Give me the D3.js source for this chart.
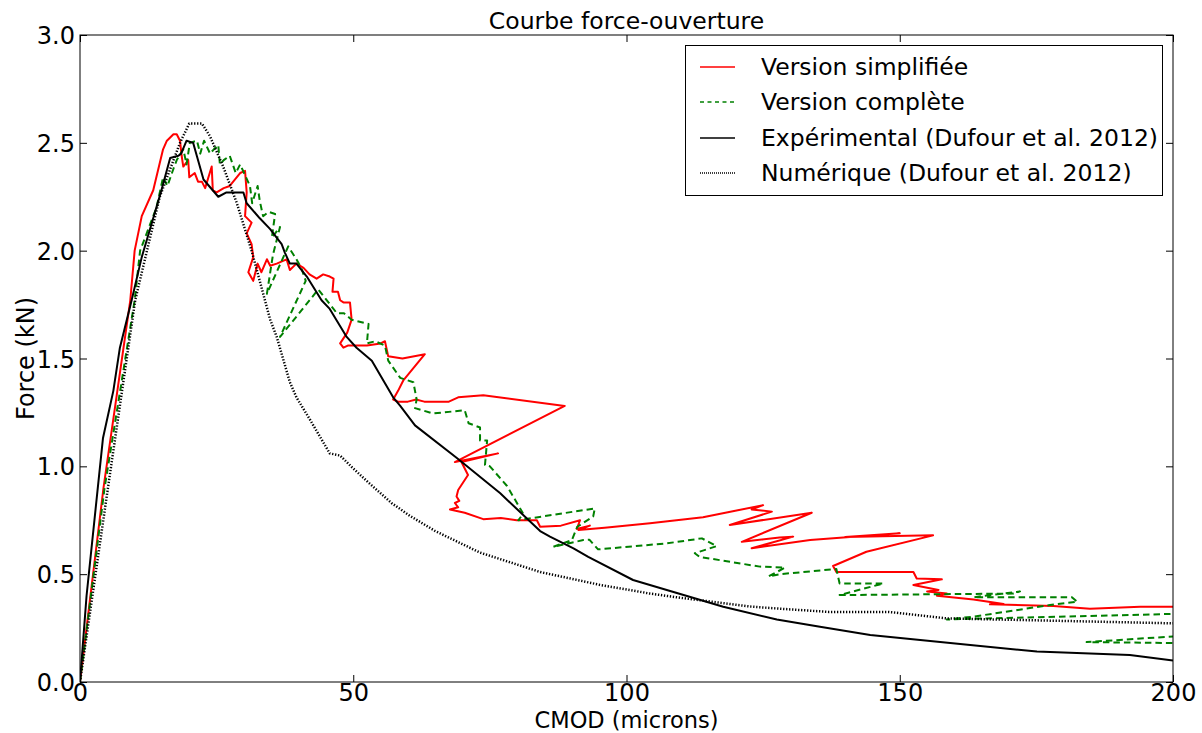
<!DOCTYPE html>
<html>
<head>
<meta charset="utf-8">
<script src="https://cdn.jsdelivr.net/npm/d3@7"></script>
<style>
  html, body { margin: 0; padding: 0; background: #fff; }
  svg { display: block; font-family: "DejaVu Sans", sans-serif; }
</style>
</head>
<body>
<svg id="chart" width="1202" height="733"></svg>
<script>
// ---- data (CMOD in microns, force in kN) ----
const simplifiee = [
  [0,0],[4.3,0.9],[9.2,1.77],[10,2.0],[11.3,2.16],[13.4,2.28],[15.2,2.47],[15.9,2.51],[17.1,2.54],[17.7,2.54],
  [18.3,2.51],[18.6,2.44],[18.9,2.39],[19.8,2.42],[20,2.34],[21,2.36],[21.6,2.32],[22.3,2.32],[22.9,2.29],[24.1,2.39],
  [24.3,2.28],[25,2.27],[26.3,2.29],[27.4,2.30],[29.3,2.36],[30.2,2.37],[30.5,2.27],[30.2,2.16],[31.4,2.13],[30.5,2.08],
  [31.4,2.03],[31.7,1.97],[30.8,1.90],[31.7,1.86],[32.5,1.94],[33.2,1.90],[34.2,1.96],[34.8,1.93],[36,1.94],[37.8,1.96],
  [38.4,1.91],[39.6,1.94],[40.9,1.92],[42,1.89],[43.3,1.87],[44.5,1.89],[45.7,1.88],[46.4,1.87],[46.2,1.81],[47.2,1.81],
  [47.6,1.77],[48.2,1.76],[49.4,1.76],[49.7,1.68],[48.9,1.62],[47.6,1.57],[48.2,1.55],[49,1.56],[50,1.56],[52.5,1.56],
  [55,1.57],[55.8,1.58],[56.4,1.51],[59,1.50],[63.1,1.52],[59.2,1.40],[58.2,1.35],[57.3,1.31],[58.2,1.30],[60,1.30],
  [61.5,1.31],[63,1.30],[65.9,1.30],[67.5,1.30],[69.2,1.32],[73.8,1.33],[88.7,1.28],[68.6,1.02],[76.5,1.06],[69.8,1.02],
  [71,0.96],[69.2,0.89],[68.9,0.86],[69.4,0.84],[68.6,0.83],[69.2,0.81],[67.7,0.80],[70.4,0.785],[73.8,0.755],[77,0.76],
  [79.9,0.75],[83.6,0.75],[84.2,0.72],[88,0.725],[91.5,0.75],[90.9,0.71],[93.3,0.725],[91.2,0.705],[96,0.715],[104.3,0.736],
  [114,0.764],[125,0.82],[122.9,0.80],[126.6,0.79],[118.9,0.728],[133.9,0.785],[121.1,0.65],[128,0.67],[130.5,0.674],[122.9,0.62],
  [133.6,0.658],[150,0.69],[140,0.672],[156.1,0.68],[143.9,0.604],[137.8,0.538],[138.4,0.51],[152.5,0.51],[153.1,0.48],[157.7,0.476],
  [152.5,0.45],[157.1,0.427],[155,0.42],[158.6,0.41],[156.8,0.40],[163.5,0.383],[169,0.362],[166.5,0.36],[178.1,0.352],[184.8,0.34],
  [194,0.349],[200,0.349]
];
const complete = [
  [0,0],[4.5,0.9],[10,1.77],[11,2.0],[14,2.2],[15.2,2.34],[16,2.3],[17.1,2.38],[17.7,2.42],[18.9,2.47],
  [19.5,2.40],[20.1,2.50],[21.4,2.51],[22,2.45],[22.7,2.51],[23.8,2.45],[24.5,2.47],[25.3,2.49],[25.6,2.40],[26.3,2.42],
  [27.4,2.44],[28.5,2.36],[29.3,2.40],[30.2,2.35],[31.1,2.30],[31.5,2.22],[32.5,2.30],[32.9,2.23],[33.5,2.16],[34.5,2.18],
  [35.7,2.17],[35.1,2.06],[36.6,2.11],[35.3,1.98],[34.2,1.80],[38.1,2.02],[39.6,1.96],[40.5,1.92],[41.3,1.86],[36.6,1.60],
  [43.6,1.82],[47,1.71],[48.3,1.71],[49.7,1.68],[52.8,1.66],[52.5,1.57],[54,1.58],[55.8,1.56],[56.4,1.49],[58.6,1.41],
  [61,1.39],[61.6,1.31],[61.3,1.27],[64.6,1.245],[70.4,1.26],[71.1,1.20],[73.2,1.18],[73.2,1.12],[74.5,1.12],[74.1,1.006],
  [75,1.0],[78.1,0.91],[79.5,0.85],[81.1,0.78],[80.2,0.75],[94.2,0.805],[93.9,0.767],[91,0.72],[90,0.658],[86.6,0.627],
  [92.1,0.658],[93.2,0.66],[94.8,0.615],[107.4,0.643],[113.8,0.666],[116.5,0.63],[112.5,0.597],[113.4,0.58],[124.4,0.535],[129,0.53],
  [126,0.49],[128.1,0.50],[138.4,0.524],[139,0.457],[147,0.457],[139,0.403],[170.8,0.41],[172,0.42],[163.5,0.393],[181.5,0.393],
  [182.5,0.372],[177.5,0.357],[163.5,0.303],[158.6,0.29],[210,0.322],[210,0.228],[184.2,0.185],[210,0.178]
];
const experimental = [
  [0,0],[1.2,0.4],[4.2,1.13],[6.1,1.35],[7.3,1.55],[9.45,1.77],[11.3,1.97],[14.9,2.28],[16.5,2.43],[18.0,2.44],
  [18.5,2.45],[19.5,2.51],[20.7,2.50],[22.6,2.33],[25.3,2.25],[26.8,2.27],[29.9,2.27],[30.5,2.22],[32.9,2.15],[34.8,2.10],
  [35.7,2.07],[36.9,2.03],[37.5,1.99],[38.4,1.94],[39.6,1.94],[41.5,1.88],[44.2,1.77],[45.7,1.73],[48.8,1.60],[50.6,1.55],
  [53.4,1.49],[57.3,1.32],[58.6,1.28],[61.3,1.19],[68.9,1.04],[76.9,0.875],[84.2,0.70],[86,0.674],[90.3,0.62],[93,0.58],
  [101.2,0.473],[117.7,0.349],[127.5,0.29],[135.4,0.256],[144.6,0.218],[162.9,0.172],[175.1,0.141],[192.1,0.125],[200,0.10]
];
const numerique = [
  [0,0],[5,0.88],[10.1,1.77],[14.6,2.25],[18.3,2.50],[20,2.59],[22.3,2.59],[23.8,2.53],[26.2,2.39],[28.7,2.22],
  [31.4,2.0],[34.8,1.68],[36,1.60],[38.4,1.39],[39.6,1.32],[42,1.22],[45.7,1.06],[47.6,1.05],[50,0.99],[53,0.92],
  [57,0.83],[60.4,0.77],[65,0.70],[73.2,0.60],[84.2,0.51],[95.2,0.45],[104.3,0.41],[110,0.39],[122.6,0.35],[128,0.34],
  [137,0.325],[148,0.325],[158.6,0.295],[200,0.272]
];
const seriesNames = ["Version simplifiée", "Version complète", "Expérimental (Dufour et al. 2012)", "Numérique (Dufour et al. 2012)"];
const xTicks = [0, 50, 100, 150, 200];
const yTicks = [0, 0.5, 1.0, 1.5, 2.0, 2.5, 3.0];

// ---- layout ----
const svg = d3.select("#chart");
const pLeft = 80, pRight = 1173, pTop = 35, pBottom = 682;
const x = d3.scaleLinear().domain([0, 200]).range([pLeft, pRight]);
const y = d3.scaleLinear().domain([0, 3.0]).range([pBottom, pTop]);

svg.append("defs").append("clipPath").attr("id", "clip")
  .append("rect").attr("x", pLeft).attr("y", pTop).attr("width", pRight - pLeft).attr("height", pBottom - pTop);

const styles = [
  { data: simplifiee, color: "#ff0000", dash: null, width: 2 },
  { data: complete, color: "#008000", dash: "6.5,4", width: 2 },
  { data: experimental, color: "#000000", dash: null, width: 2 },
  { data: numerique, color: "#000000", dash: "1.3,1.7", width: 2.5 }
];

const line = d3.line().x(d => x(d[0])).y(d => y(d[1]));
const g = svg.append("g").attr("clip-path", "url(#clip)");
styles.forEach(s => {
  g.append("path").datum(s.data)
    .attr("d", line)
    .attr("fill", "none")
    .attr("stroke", s.color)
    .attr("stroke-width", s.width)
    .attr("stroke-linejoin", "round")
    .attr("stroke-dasharray", s.dash);
});

// ---- axes (ticks inside, on all four sides) ----
const fontSize = 24;
const axB = svg.append("g").attr("transform", `translate(0,${pBottom})`)
  .call(d3.axisBottom(x).tickValues(xTicks).tickSizeInner(-7).tickSizeOuter(0).tickPadding(2).tickFormat(d3.format("d")));
const axT = svg.append("g").attr("transform", `translate(0,${pTop})`)
  .call(d3.axisTop(x).tickValues(xTicks).tickSizeInner(-7).tickSizeOuter(0).tickFormat(""));
const axL = svg.append("g").attr("transform", `translate(${pLeft},0)`)
  .call(d3.axisLeft(y).tickValues(yTicks).tickSizeInner(-7).tickSizeOuter(0).tickPadding(5).tickFormat(d3.format(".1f")));
const axR = svg.append("g").attr("transform", `translate(${pRight},0)`)
  .call(d3.axisRight(y).tickValues(yTicks).tickSizeInner(-7).tickSizeOuter(0).tickFormat(""));
[axB, axT, axL, axR].forEach(a => {
  a.select(".domain").remove();
  a.selectAll("line").attr("stroke", "#000").attr("stroke-width", 1);
  a.selectAll("text").attr("font-size", fontSize).attr("fill", "#000").attr("font-family", "DejaVu Sans");
});
axL.selectAll("text").attr("dy", "0.36em");

svg.append("rect").attr("x", pLeft).attr("y", pTop).attr("width", pRight - pLeft).attr("height", pBottom - pTop)
  .attr("fill", "none").attr("stroke", "#000").attr("stroke-width", 1);

// ---- labels ----
svg.append("text").attr("x", (pLeft + pRight) / 2).attr("y", 29).attr("text-anchor", "middle")
  .attr("font-size", 23.5).text("Courbe force-ouverture");
svg.append("text").attr("x", (pLeft + pRight) / 2).attr("y", 727.6).attr("text-anchor", "middle")
  .attr("font-size", 22.5).text("CMOD (microns)");
svg.append("text").attr("transform", `translate(34,${(pTop + pBottom) / 2}) rotate(-90)`)
  .attr("text-anchor", "middle").attr("font-size", fontSize).text("Force (kN)");

// ---- legend ----
const lg = svg.append("g");
lg.append("rect").attr("x", 685.5).attr("y", 45.5).attr("width", 477).attr("height", 150)
  .attr("fill", "#fff").attr("stroke", "#000").attr("stroke-width", 1);
const rowY = [67, 102, 138, 173];
styles.forEach((s, i) => {
  lg.append("line").attr("x1", 700).attr("x2", 735).attr("y1", rowY[i]).attr("y2", rowY[i])
    .attr("stroke", s.color).attr("stroke-width", 1.5).attr("stroke-dasharray", i === 1 ? "4,3.5" : (i === 3 ? "1,1" : null));
  lg.append("text").attr("x", 761).attr("y", rowY[i]).attr("dy", "0.36em")
    .attr("font-size", 23.5).text(seriesNames[i]);
});
</script>
</body>
</html>
